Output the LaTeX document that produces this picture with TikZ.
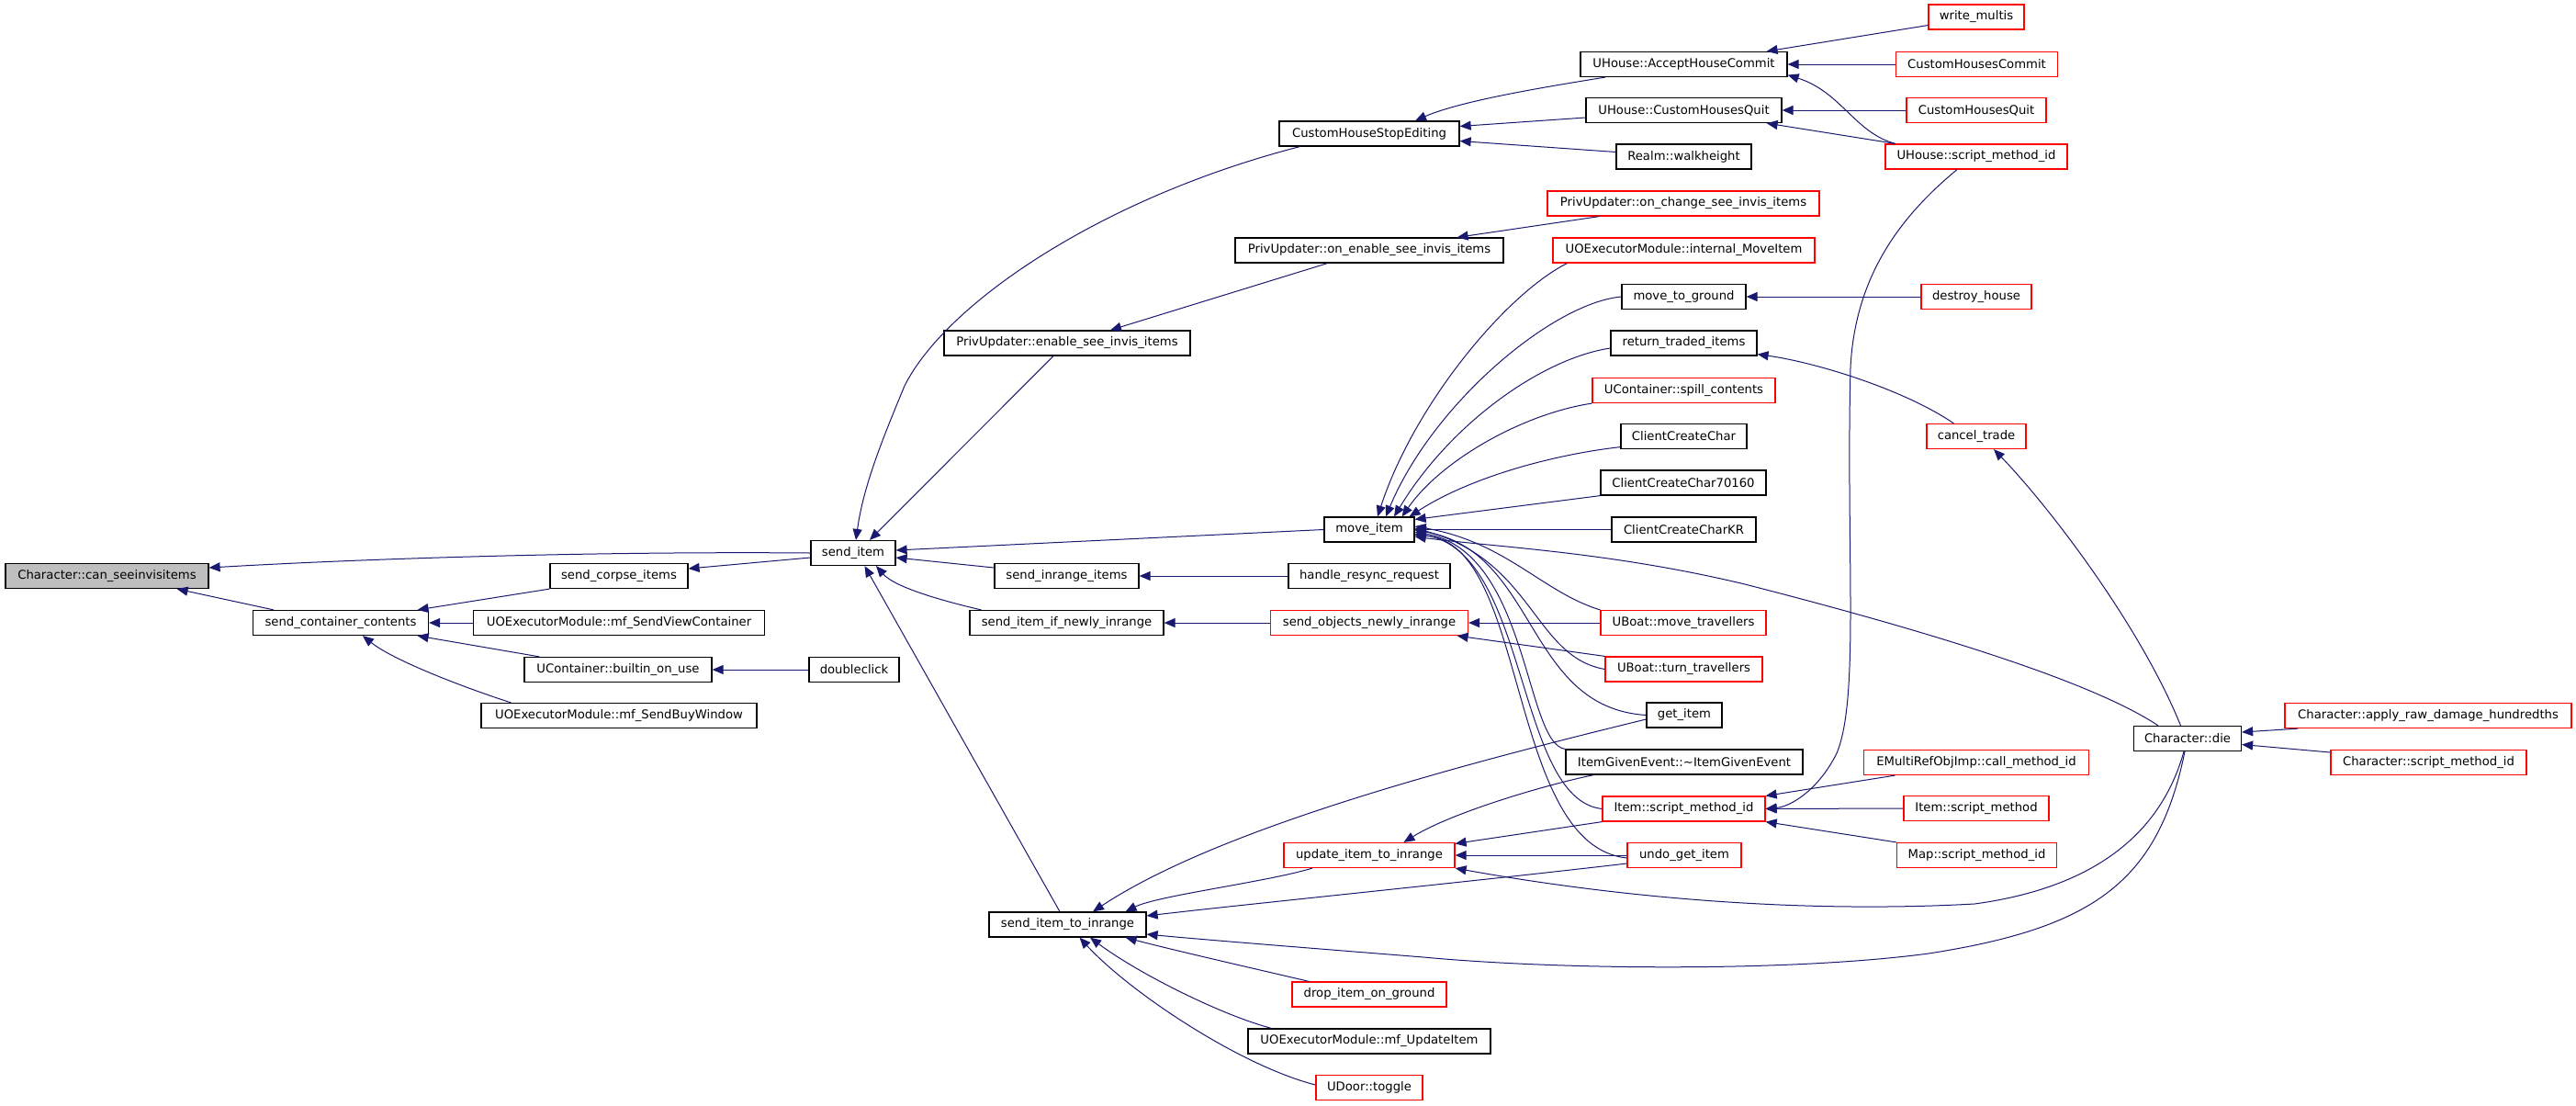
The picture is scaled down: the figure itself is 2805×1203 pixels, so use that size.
\documentclass[tikz,border=0pt]{standalone}
\usepackage{fontspec}
\setmainfont{DejaVu Sans}
\usetikzlibrary{arrows.meta}
\definecolor{edgec}{HTML}{191970}
\definecolor{nred}{HTML}{FF0000}
\definecolor{rootg}{HTML}{BFBFBF}
\begin{document}
\begin{tikzpicture}[x=1pt,y=-1pt,
  box/.style={draw=black, line width=1.2pt, fill=white, minimum height=27pt, inner sep=0pt, font=\fontsize{13.2}{15}\selectfont, anchor=center},
  rbox/.style={box, draw=nred},
  root/.style={box, fill=rootg},
  edge/.style={draw=edgec, line width=1pt, -{Triangle[length=12pt,width=10pt]}},
]
\useasboundingbox (0,0) rectangle (2805,1203);
\fill[white] (0,0) rectangle (2805,1203);
% nodes
\node[root, minimum width=221pt] (can) at (116.5,627) {Character::can\_seeinvisitems};
\node[box, minimum width=191pt] (scc) at (371,678) {send\_container\_contents};
\node[box, minimum width=150pt] (sci) at (674,627) {send\_corpse\_items};
\node[box, minimum width=317pt] (svc) at (674,678) {UOExecutorModule::mf\_SendViewContainer};
\node[box, minimum width=204pt] (bou) at (673,729) {UContainer::builtin\_on\_use};
\node[box, minimum width=300pt] (sbw) at (674,779) {UOExecutorModule::mf\_SendBuyWindow};
\node[box, minimum width=98pt] (dbl) at (930,729) {doubleclick};
\node[box, minimum width=225pt] (ahc) at (1833.5,70) {UHouse::AcceptHouseCommit};
\node[rbox, minimum width=104pt] (wm) at (2152,18.5) {write\_multis};
\node[rbox, minimum width=176pt] (chc) at (2152.5,70) {CustomHousesCommit};
\node[box, minimum width=213pt] (uchq) at (1833.5,120) {UHouse::CustomHousesQuit};
\node[rbox, minimum width=152pt] (chq) at (2152,120) {CustomHousesQuit};
\node[box, minimum width=196pt] (chse) at (1491,145.5) {CustomHouseStopEditing};
\node[box, minimum width=147pt] (rwh) at (1833.5,170.5) {Realm::walkheight};
\node[rbox, minimum width=198pt] (usmi) at (2152,170.5) {UHouse::script\_method\_id};
\node[rbox, minimum width=296pt] (occ) at (1833,221.5) {PrivUpdater::on\_change\_see\_invis\_items};
\node[box, minimum width=292pt] (oen) at (1491,272.5) {PrivUpdater::on\_enable\_see\_invis\_items};
\node[rbox, minimum width=285pt] (imi) at (1833.5,272.5) {UOExecutorModule::internal\_MoveItem};
\node[box, minimum width=135pt] (mtg) at (1833.5,323) {move\_to\_ground};
\node[rbox, minimum width=120pt] (dh) at (2152,323) {destroy\_house};
\node[box, minimum width=268pt] (esi) at (1162,373.5) {PrivUpdater::enable\_see\_invis\_items};
\node[box, minimum width=159pt] (rti) at (1833.5,373.5) {return\_traded\_items};
\node[rbox, minimum width=199pt] (spc) at (1833.5,425) {UContainer::spill\_contents};
\node[rbox, minimum width=108pt] (ct) at (2152,475) {cancel\_trade};
\node[box, minimum width=137pt] (ccc) at (1833.5,475) {ClientCreateChar};
\node[box, minimum width=180pt] (cc7) at (1833,525.5) {ClientCreateChar70160};
\node[box, minimum width=157pt] (cck) at (1833.5,576.5) {ClientCreateCharKR};
\node[box, minimum width=98pt] (mi) at (1491,576.5) {move\_item};
\node[box, minimum width=92pt] (si) at (929,602) {send\_item};
\node[box, minimum width=157pt] (sii) at (1161.5,627) {send\_inrange\_items};
\node[box, minimum width=176pt] (hrr) at (1491,627) {handle\_resync\_request};
\node[box, minimum width=211pt] (sni) at (1161.5,678) {send\_item\_if\_newly\_inrange};
\node[rbox, minimum width=215pt] (soni) at (1491,678) {send\_objects\_newly\_inrange};
\node[rbox, minimum width=180pt] (umt) at (1833,678) {UBoat::move\_travellers};
\node[rbox, minimum width=171pt] (utt) at (1833.5,728.5) {UBoat::turn\_travellers};
\node[box, minimum width=82pt] (gi) at (1834,778.5) {get\_item};
\node[box, minimum width=258pt] (ige) at (1834,829.5) {ItemGivenEvent::\textasciitilde ItemGivenEvent};
\node[rbox, minimum width=177pt] (ismi) at (1833.5,880.5) {Item::script\_method\_id};
\node[rbox, minimum width=245pt] (emr) at (2152,830) {EMultiRefObjImp::call\_method\_id};
\node[rbox, minimum width=158pt] (ism) at (2152,880) {Item::script\_method};
\node[box, minimum width=117pt] (cd) at (2382,804) {Character::die};
\node[rbox, minimum width=312pt] (ard) at (2644,779) {Character::apply\_raw\_damage\_hundredths};
\node[rbox, minimum width=213pt] (csmi) at (2644.5,830) {Character::script\_method\_id};
\node[rbox, minimum width=174pt] (msmi) at (2152.5,931) {Map::script\_method\_id};
\node[rbox, minimum width=186pt] (uir) at (1491,931) {update\_item\_to\_inrange};
\node[rbox, minimum width=124pt] (ugi) at (1834,931) {undo\_get\_item};
\node[box, minimum width=171pt] (sitr) at (1162.5,1006.5) {send\_item\_to\_inrange};
\node[rbox, minimum width=168pt] (dig) at (1491,1082.5) {drop\_item\_on\_ground};
\node[box, minimum width=264pt] (mfu) at (1491,1133.5) {UOExecutorModule::mf\_UpdateItem};
\node[rbox, minimum width=116pt] (udt) at (1491,1184) {UDoor::toggle};
% edges
\draw[edge] (si.west) .. controls (650,600) and (400,608) .. ([yshift=9pt]can.east);
\draw[edge] ([xshift=23pt]scc.north west) -- ([xshift=-35pt]can.south east);
\draw[edge] (sci.south west) -- ([xshift=-12.5pt]scc.north east);
\draw[edge] (svc.west) -- (scc.east);
\draw[edge] ([xshift=17pt]bou.north west) -- ([xshift=-12.5pt]scc.south east);
\draw[edge] ([xshift=33pt]sbw.north west) .. controls (510,750) and (430,720) .. ([xshift=120pt]scc.south west);
\draw[edge] (dbl.west) -- (bou.east);
\draw[edge] ([yshift=-5pt]si.west) -- ([yshift=8pt]sci.east);
\draw[edge] ([xshift=23pt]chse.south west) .. controls (1200,215) and (1030,330) .. (985,420) .. controls (960,480) and (940,530) .. ([xshift=3pt]si.north);
\draw[edge] ([xshift=-15pt]esi.south) -- ([xshift=18pt]si.north);
\draw[edge] ([xshift=101pt]oen.south west) -- ([xshift=47pt]esi.north);
\draw[edge] (mi.west) -- ([yshift=3pt]si.east);
\draw[edge] ([yshift=9pt]sii.west) -- ([yshift=-5pt]si.east);
\draw[edge] ([xshift=13pt]sni.north west) .. controls (1030,655) and (975,640) .. ([xshift=25pt]si.south);
\draw[edge] ([xshift=-8.5pt]sitr.north) -- ([xshift=12.5pt]si.south);
\draw[edge] (hrr.west) -- (sii.east);
\draw[edge] (soni.west) -- (sni.east);
\draw[edge] (umt.west) -- (soni.east);
\draw[edge] (utt.north west) -- ([xshift=-12.5pt]soni.south east);
\draw[edge] ([xshift=27.5pt]ahc.south west) .. controls (1680,95) and (1590,110) .. ([xshift=50pt]chse.north);
\draw[edge] ([yshift=-8pt]uchq.west) -- ([yshift=8pt]chse.east);
\draw[edge] ([yshift=5pt]rwh.west) -- ([yshift=-8pt]chse.east);
\draw[edge] ([xshift=57pt]occ.south west) -- ([xshift=-51pt]oen.north east);
\draw[edge] ([yshift=-9pt]wm.west) -- ([xshift=-23pt]ahc.north east);
\draw[edge] (chc.west) -- (ahc.east);
\draw[edge] ([xshift=11.5pt]usmi.north west) .. controls (2020,145) and (2005,100) .. ([yshift=2.5pt]ahc.south east);
\draw[edge] (chq.west) -- (uchq.east);
\draw[edge] ([xshift=11.5pt]usmi.north west) -- ([xshift=-17pt]uchq.south east);
\draw[edge] (dh.west) -- (mtg.east);
\draw[edge] ([xshift=-21pt]usmi.south) .. controls (2070,235) and (2020,300) .. (2015,400) .. controls (2010,600) and (2025,760) .. (2000,820) .. controls (1980,860) and (1950,878) .. (ismi.east);
\draw[edge] ([xshift=30pt]ct.north west) .. controls (2075,425) and (1980,395) .. ([yshift=2pt]rti.south east);
\draw[edge] ([xshift=-7.5pt]cd.north) .. controls (2330,680) and (2230,550) .. ([xshift=19pt]ct.south);
\draw[edge] ([xshift=-32pt]cd.north) .. controls (2290,750) and (2150,700) .. (1900,636) .. controls (1750,600) and (1620,595) .. ([yshift=-7.5pt]mi.east);
\draw[edge] ([xshift=15pt]ard.south west) -- ([yshift=7pt]cd.east);
\draw[edge] ([yshift=11pt]csmi.west) -- ([yshift=-6.5pt]cd.east);
\draw[edge] ([xshift=34.5pt]emr.south west) -- (ismi.north east);
\draw[edge] (ism.west) -- (ismi.east);
\draw[edge] (msmi.north west) -- (ismi.south east);
\draw[edge] ([xshift=-4pt]cd.south) .. controls (2355,900) and (2290,965) .. (2150,984) .. controls (1950,995) and (1750,975) .. (uir.south east);
\draw[edge] ([xshift=-3pt]cd.south) .. controls (2350,960) and (2280,1010) .. (2100,1038) .. controls (1950,1058) and (1700,1056) .. (1550,1042) .. controls (1400,1030) and (1300,1022) .. ([yshift=-10.5pt]sitr.east);
\draw[edge] ([yshift=-4.5pt]gi.west) .. controls (1600,830) and (1330,900) .. ([xshift=27.5pt]sitr.north);
\draw[edge] ([xshift=31pt]ige.south west) .. controls (1680,855) and (1580,885) .. ([xshift=37.5pt]uir.north);
\draw[edge] (ismi.south west) -- ([yshift=-1.5pt]uir.north east);
\draw[edge] (ugi.west) -- (uir.east);
\draw[edge] ([yshift=-9pt]ugi.west) .. controls (1600,960) and (1350,985) .. ([yshift=9.5pt]sitr.east);
\draw[edge] ([xshift=31.5pt]uir.south west) .. controls (1380,960) and (1260,975) .. ([xshift=-23pt]sitr.north east);
\draw[edge] ([xshift=19pt]dig.north west) .. controls (1390,1060) and (1280,1035) .. ([xshift=-23pt]sitr.south east);
\draw[edge] ([xshift=26pt]mfu.north west) .. controls (1330,1105) and (1240,1060) .. ([xshift=24.5pt]sitr.south);
\draw[edge] ([yshift=3pt]udt.west) .. controls (1350,1160) and (1230,1080) .. ([xshift=13pt]sitr.south);
\draw[edge] ([xshift=16pt]imi.south west) .. controls (1640,320) and (1540,440) .. ([xshift=9pt]mi.north);
\draw[edge] (mtg.west) .. controls (1690,330) and (1560,440) .. ([xshift=18pt]mi.north);
\draw[edge] ([yshift=-5.5pt]rti.west) .. controls (1680,390) and (1580,460) .. ([xshift=27pt]mi.north);
\draw[edge] (spc.south west) .. controls (1660,450) and (1570,500) .. ([xshift=-14pt]mi.north east);
\draw[edge] ([yshift=2.5pt]ccc.south west) .. controls (1690,495) and (1600,520) .. ([xshift=-6pt]mi.north east);
\draw[edge] (cc7.south west) -- ([yshift=-3pt]mi.north east);
\draw[edge] (cck.west) -- (mi.east);
\draw[edge] (umt.north west) .. controls (1680,645) and (1640,590) .. ([yshift=3.5pt]mi.east);
\draw[edge] (utt.west) .. controls (1670,715) and (1670,610) .. ([yshift=1.5pt]mi.east);
\draw[edge] (gi.west) .. controls (1660,770) and (1675,600) .. ([yshift=-0.5pt]mi.east);
\draw[edge] (ige.north west) .. controls (1660,810) and (1665,600) .. ([yshift=-2.5pt]mi.east);
\draw[edge] (ismi.west) .. controls (1650,870) and (1665,600) .. ([yshift=-4.5pt]mi.east);
\draw[edge] ([yshift=-3pt]ugi.west) .. controls (1640,920) and (1665,590) .. ([yshift=-6pt]mi.east);
\end{tikzpicture}
\end{document}
